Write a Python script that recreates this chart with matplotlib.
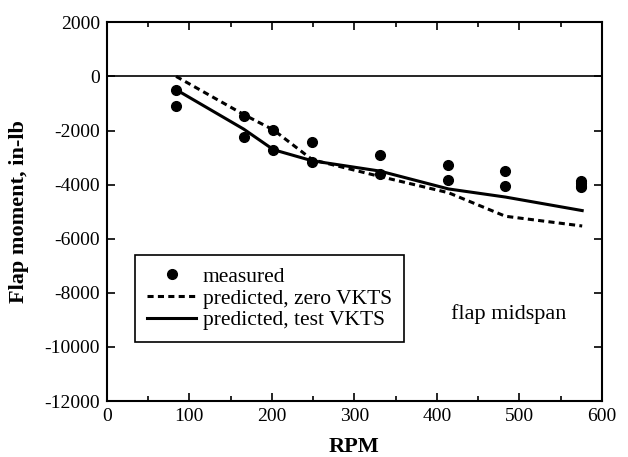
import matplotlib
matplotlib.use("Agg")
import matplotlib.pyplot as plt
from matplotlib.ticker import MultipleLocator

plt.rcParams['font.family'] = ['Liberation Serif', 'DejaVu Serif']
plt.rcParams['axes.unicode_minus'] = False

# measured data (RPM, flap moment)
meas_rpm = [84, 84, 166, 166, 202, 202, 249, 249, 331, 331, 414, 414, 483, 483, 574, 574, 574, 574]
meas_mom = [-490, -1080, -1450, -2240, -1990, -2710, -2420, -3180, -2890, -3600, -3260, -3840, -3500, -4040, -3850, -3950, -4050, -4100]

# predicted, zero VKTS
zero_rpm = [84, 166, 202, 249, 331, 414, 483, 576]
zero_mom = [0, -1410, -1980, -3080, -3700, -4300, -5170, -5530]

# predicted, test VKTS
test_rpm = [84, 166, 202, 249, 331, 414, 483, 576]
test_mom = [-490, -1950, -2710, -3120, -3500, -4160, -4460, -4960]

fig = plt.figure(figsize=(6.28, 4.57), dpi=100)
ax = fig.add_axes([0.170, 0.1225, 0.7886, 0.8287])

ax.axhline(0, color='black', lw=1.2)
ax.plot(meas_rpm, meas_mom, 'o', color='black', ms=7, label='measured')
ax.plot(zero_rpm, zero_mom, '--', color='black', lw=2.2, dashes=(2.0, 1.4), label='predicted, zero VKTS')
ax.plot(test_rpm, test_mom, '-', color='black', lw=2.2, label='predicted, test VKTS')

ax.set_xlim(0, 600)
ax.set_ylim(-12000, 2000)
ax.xaxis.set_major_locator(MultipleLocator(100))
ax.xaxis.set_minor_locator(MultipleLocator(50))
ax.yaxis.set_major_locator(MultipleLocator(2000))
ax.tick_params(which='both', direction='in', top=True, right=True, labelsize=14, width=1.2)
ax.tick_params(axis='x', pad=5)
ax.tick_params(axis='y', pad=5)
ax.tick_params(which='major', length=6)
ax.tick_params(which='minor', length=3.5)
for s in ax.spines.values():
    s.set_linewidth(1.5)

ax.set_xlabel('RPM', fontsize=16, fontweight='bold', labelpad=9)
ax.set_ylabel('Flap moment, in-lb', fontsize=16, fontweight='bold', labelpad=11)

ax.text(487, -8800, 'flap midspan', fontsize=16, ha='center', va='center')

leg = ax.legend(loc='upper left', bbox_to_anchor=(0.057, 0.3855), fontsize=15.5,
                frameon=True, fancybox=False, edgecolor='black', framealpha=1,
                handlelength=2.3, handletextpad=0.3, borderpad=0.55, labelspacing=0.07,
                borderaxespad=0, markerscale=1.0)
leg.get_frame().set_linewidth(1.2)

fig.savefig('out.png', dpi=100)
